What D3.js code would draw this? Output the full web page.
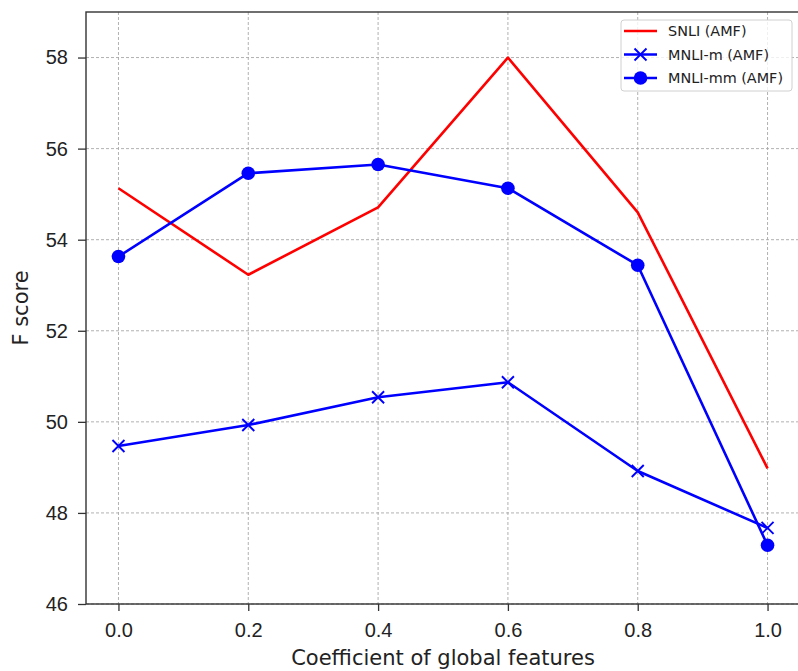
<!DOCTYPE html>
<html>
<head>
<meta charset="utf-8">
<script src="https://cdn.jsdelivr.net/npm/d3@7"></script>
<style>
  body { margin: 0; background: #fff; }
  svg { display: block; font-family: "DejaVu Sans", sans-serif; }
</style>
</head>
<body>
<svg id="chart" width="798" height="671"></svg>
<script>
// chart values
const coeffs = [0.0, 0.2, 0.4, 0.6, 0.8, 1.0];
const snli   = [55.13, 53.23, 54.71, 58.0, 54.6, 48.98];
const mnliM  = [49.47, 49.93, 50.54, 50.87, 48.92, 47.67];
const mnliMM = [53.63, 55.46, 55.65, 55.13, 53.44, 47.29];
const xTicks = [0.0, 0.2, 0.4, 0.6, 0.8, 1.0];
const yTicks = [46, 48, 50, 52, 54, 56, 58];

const series = [
  {name: 'SNLI (AMF)',    values: snli,   color: '#ff0000', marker: 'none'},
  {name: 'MNLI-m (AMF)',  values: mnliM,  color: '#0000ff', marker: 'x'},
  {name: 'MNLI-mm (AMF)', values: mnliMM, color: '#0000ff', marker: 'circle'}
];

const svg = d3.select('#chart');
const pad = {left: 86, right: 800, top: 12, bottom: 604};

const x = d3.scaleLinear().domain([-0.05, 1.05]).range([pad.left, pad.right]);
const y = d3.scaleLinear().domain([46, 59]).range([pad.bottom, pad.top]);

// grid
const grid = svg.append('g').attr('stroke', '#a8a8a8').attr('stroke-width', 0.9)
  .attr('stroke-dasharray', '3,2');
grid.selectAll('.gx').data(xTicks).join('line')
  .attr('x1', d => x(d)).attr('x2', d => x(d)).attr('y1', pad.top).attr('y2', pad.bottom);
grid.selectAll('.gy').data(yTicks).join('line')
  .attr('x1', pad.left).attr('x2', pad.right).attr('y1', d => y(d)).attr('y2', d => y(d));

// axes
const xAxis = d3.axisBottom(x).tickValues(xTicks).tickFormat(d3.format('.1f'))
  .tickSizeInner(7).tickSizeOuter(0);
const yAxis = d3.axisLeft(y).tickValues(yTicks).tickFormat(d3.format('d'))
  .tickSizeInner(8).tickSizeOuter(0).tickPadding(10);

const gx = svg.append('g').attr('transform', `translate(0,${pad.bottom})`).call(xAxis);
const gy = svg.append('g').attr('transform', `translate(${pad.left},0)`).call(yAxis);
[gx, gy].forEach(g => {
  g.select('.domain').remove();
  g.selectAll('.tick line').attr('stroke', '#333').attr('stroke-width', 1.3);
  g.selectAll('.tick text').attr('fill', '#222').style('font-size', '20px');
});
gx.selectAll('.tick text').attr('dy', null).attr('y', 33);

// lines
const line = d3.line().x((d, i) => x(coeffs[i])).y(d => y(d));
const plot = svg.append('g');
series.forEach(s => {
  plot.append('path').datum(s.values)
    .attr('fill', 'none').attr('stroke', s.color).attr('stroke-width', 2.6)
    .attr('stroke-linejoin', 'round').attr('d', line);
  drawMarkers(plot, s, s.values.map((v, i) => [x(coeffs[i]), y(v)]));
});

function drawMarkers(g, s, pts) {
  if (s.marker === 'circle') {
    g.selectAll(null).data(pts).join('circle')
      .attr('cx', d => d[0]).attr('cy', d => d[1]).attr('r', 6.8)
      .attr('fill', s.color);
  } else if (s.marker === 'x') {
    const r = 6;
    g.selectAll(null).data(pts).join('path')
      .attr('d', d => `M${d[0]-r},${d[1]-r}L${d[0]+r},${d[1]+r}M${d[0]-r},${d[1]+r}L${d[0]+r},${d[1]-r}`)
      .attr('stroke', s.color).attr('stroke-width', 1.9).attr('fill', 'none');
  }
}

// frame
svg.append('rect').attr('x', pad.left).attr('y', pad.top)
  .attr('width', pad.right - pad.left).attr('height', pad.bottom - pad.top)
  .attr('fill', 'none').attr('stroke', '#333').attr('stroke-width', 1.4);

// axis labels
svg.append('text').attr('x', 443).attr('y', 665)
  .attr('text-anchor', 'middle').style('font-size', '21px').attr('fill', '#222')
  .text('Coefficient of global features');
svg.append('text').attr('transform', `translate(28,${(pad.top + pad.bottom) / 2}) rotate(-90)`)
  .attr('text-anchor', 'middle').style('font-size', '21px').attr('fill', '#222')
  .text('F score');

// legend
const lg = svg.append('g').attr('transform', 'translate(621,20)');
lg.append('rect').attr('width', 171).attr('height', 71).attr('rx', 3)
  .attr('fill', '#fff').attr('fill-opacity', 0.8).attr('stroke', '#d0d0d0');
series.forEach((s, i) => {
  const cy = 11 + i * 23.5;
  lg.append('line').attr('x1', 3).attr('x2', 36).attr('y1', cy).attr('y2', cy)
    .attr('stroke', s.color).attr('stroke-width', 2.6);
  drawMarkers(lg, s, [[19.5, cy]]);
  lg.append('text').attr('x', 47).attr('y', cy + 5).style('font-size', '14.4px')
    .attr('fill', '#222').text(s.name);
});
</script>
</body>
</html>
